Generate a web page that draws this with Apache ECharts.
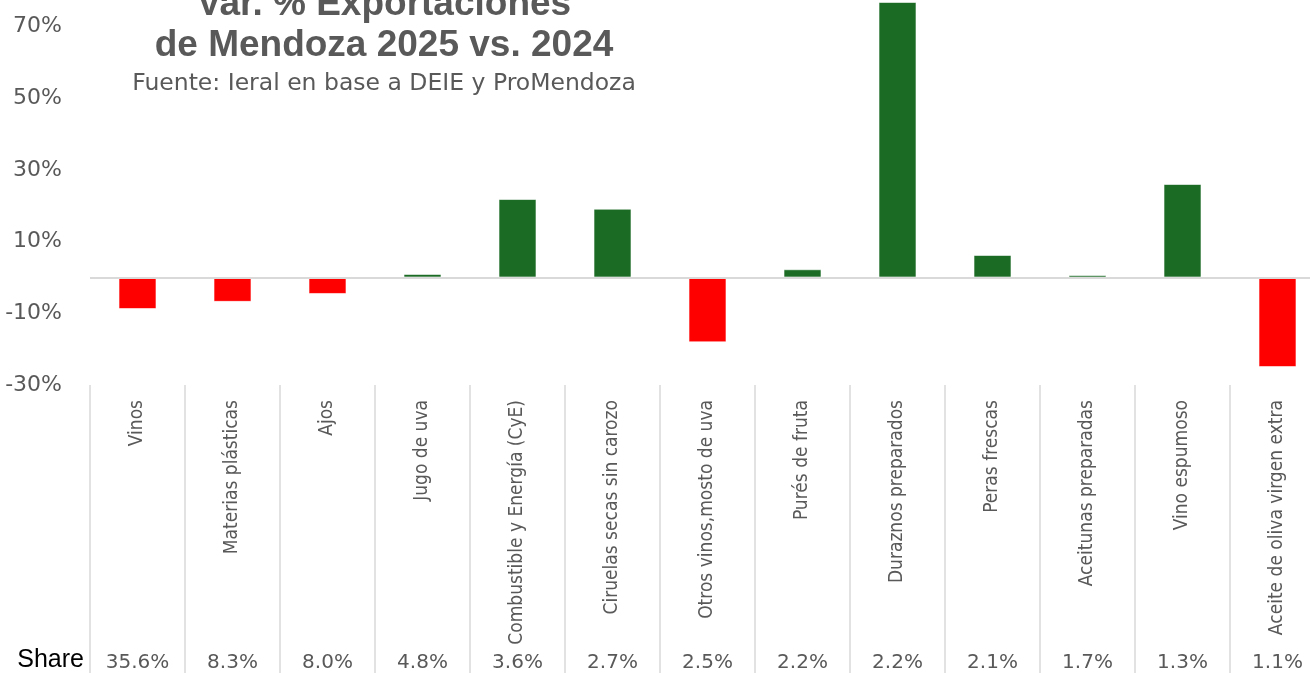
<!DOCTYPE html>
<html>
<head>
    <meta charset="utf-8">
    <title>Var. % Exportaciones de Mendoza 2025 vs. 2024</title>
    <style>
        html, body { margin: 0; padding: 0; background: #fff; }
        #chart { width: 1310px; height: 673px; }
    </style>
</head>
<body>
<div id="chart"></div>
<script src="https://cdn.jsdelivr.net/npm/echarts@6/dist/echarts.min.js"></script>
<script>
    // productos, ordenados por share
    var categories = ['Vinos', 'Materias plásticas', 'Ajos', 'Jugo de uva', 'Combustible y Energía (CyE)',
        'Ciruelas secas sin carozo', 'Otros vinos,mosto de uva', 'Purés de fruta', 'Duraznos preparados',
        'Peras frescas', 'Aceitunas preparadas', 'Vino espumoso', 'Aceite de oliva virgen extra'];
    // var. % 2025 vs 2024
    var varPct = [-8.8, -6.8, -4.6, 1.0, 21.9, 19.2, -18.1, 2.3, 76.9, 6.3, 0.7, 26.1, -25.0];
    // participacion en el total
    var shares = ['35.6%', '8.3%', '8.0%', '4.8%', '3.6%', '2.7%', '2.5%', '2.2%', '2.2%', '2.1%', '1.7%', '1.3%', '1.1%'];

    var GREEN = '#1b6b24', RED = '#ff0000', GREY = '#595959';

    var barData = varPct.map(function (v) {
        return {value: v, itemStyle: {color: v >= 0 ? GREEN : RED}};
    });

    var option = {
        animation: false,
        backgroundColor: '#fff',
        graphic: [
            {type: 'text', x: 384, y: 23, style: {
                text: 'Var. % Exportaciones', textAlign: 'center', textVerticalAlign: 'bottom',
                font: 'bold 37px "Liberation Sans"', fill: GREY}},
            {type: 'text', x: 384, y: 64, style: {
                text: 'de Mendoza 2025 vs. 2024', textAlign: 'center', textVerticalAlign: 'bottom',
                font: 'bold 37px "Liberation Sans"', fill: GREY}},
            {type: 'text', x: 384, y: 84, style: {
                text: 'Fuente: Ieral en base a DEIE y ProMendoza', textAlign: 'center', textVerticalAlign: 'middle',
                font: '23.5px "DejaVu Sans"', fill: GREY}}
        ],
        grid: {left: 90, right: -15, top: -45, bottom: 288, containLabel: false, outerBoundsMode: 'none'},
        xAxis: [
            {
                type: 'category', data: categories, position: 'bottom',
                axisLine: {show: false},
                axisTick: {show: false},
                axisLabel: {
                    rotate: 90, interval: 0, margin: 15,
                    fontFamily: '"DejaVu Sans Condensed", sans-serif',
                    fontSize: 19, color: GREY
                }
            },
            {
                // fila de share, al pie de la tabla; sus ticks hacen las divisiones verticales
                type: 'category', data: shares, position: 'bottom', offset: 288,
                name: 'Share', nameLocation: 'start', nameGap: 6,
                nameTextStyle: {fontFamily: 'Liberation Sans', fontSize: 25, color: '#000', verticalAlign: 'bottom'},
                axisLine: {show: false},
                axisTick: {show: true, inside: true, length: 288, lineStyle: {color: '#d9d9d9', width: 1.5}},
                axisLabel: {interval: 0, margin: -10, verticalAlign: 'middle',
                    fontFamily: 'DejaVu Sans', fontSize: 20, color: GREY}
            }
        ],
        yAxis: {
            type: 'value', min: -30, max: 90, interval: 20,
            axisLine: {show: false}, axisTick: {show: false}, splitLine: {show: false},
            axisLabel: {formatter: '{value}%', margin: 28, fontFamily: 'DejaVu Sans', fontSize: 22, color: GREY}
        },
        series: [{
            type: 'bar', xAxisIndex: 0, barWidth: 38, data: barData,
            itemStyle: {borderColor: 'rgba(255,255,255,0.6)', borderWidth: 1},
            markLine: {
                silent: true, symbol: 'none', label: {show: false},
                lineStyle: {color: '#d9d9d9', width: 2, type: 'solid'},
                data: [{yAxis: 0}]
            }
        }]
    };

    var chart = echarts.init(document.getElementById('chart'));
    chart.setOption(option);
</script>
</body>
</html>
